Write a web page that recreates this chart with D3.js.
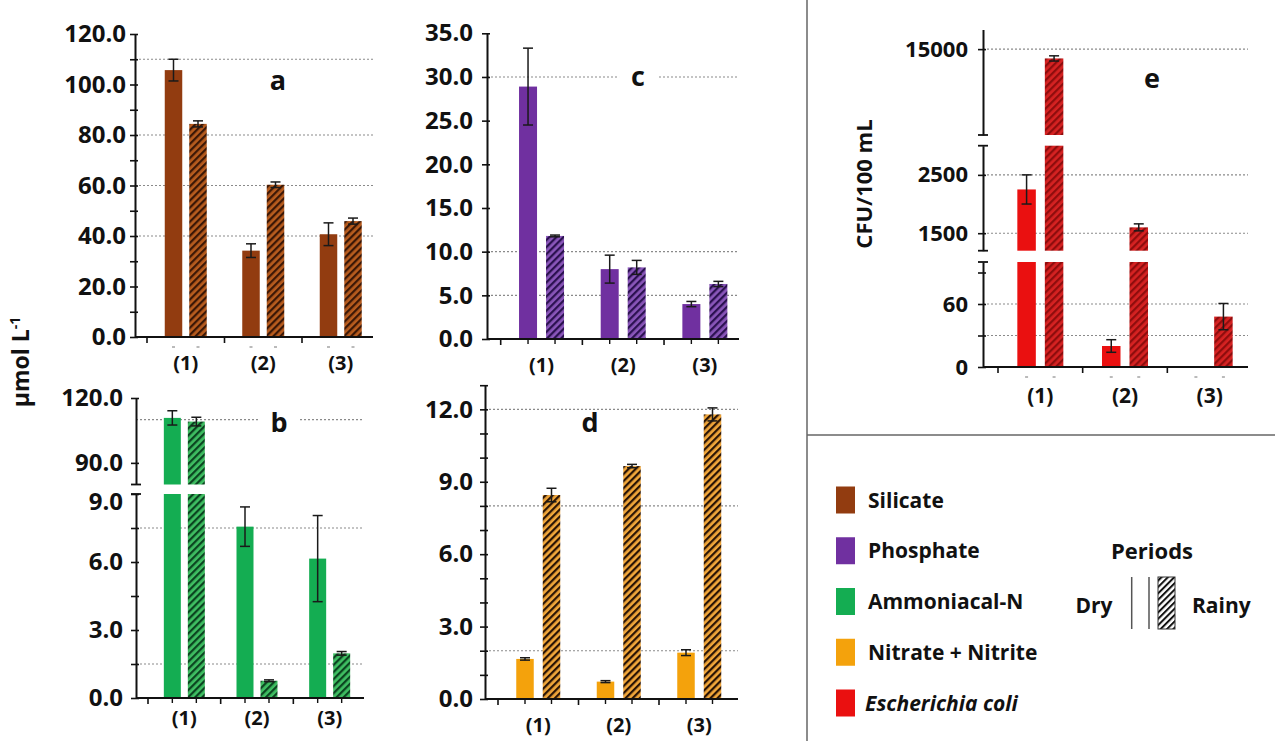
<!DOCTYPE html>
<html><head><meta charset="utf-8">
<script src="https://cdn.jsdelivr.net/npm/d3@7"></script>
<style>
body{margin:0;background:#fff}
svg{display:block}
text{font-family:"Open Sans","Liberation Sans",sans-serif;font-weight:700;fill:#111}
</style>
</head><body>
<svg id="chart" width="1275" height="741"></svg>
<script>
// ---------------- data ----------------
const sites = ["(1)", "(2)", "(3)"];
const periods = ["Dry", "Rainy"];

const silicateDry = [105.7, 34.2, 40.7];
const silicateDryErr = [4.3, 2.7, 4.5];
const silicateRainy = [84.4, 60.3, 45.9];
const silicateRainyErr = [1.2, 1.1, 1.2];

const ammoniaDry = [110.8, 7.56, 6.15];
const ammoniaDryErr = [3.3, 0.87, 1.9];
const ammoniaRainy = [109.1, 0.76, 1.97];
const ammoniaRainyErr = [2.0, 0.04, 0.08];

const phosphateDry = [28.9, 8.0, 4.0];
const phosphateDryErr = [4.4, 1.6, 0.3];
const phosphateRainy = [11.8, 8.2, 6.3];
const phosphateRainyErr = [0.1, 0.8, 0.3];

const nitrateDry = [1.66, 0.72, 1.92];
const nitrateDryErr = [0.05, 0.04, 0.12];
const nitrateRainy = [8.45, 9.65, 11.79];
const nitrateRainyErr = [0.28, 0.07, 0.27];

const ecoliDry = [2250, 20, 0];
const ecoliDryErr = [250, 6, 0];
const ecoliRainy = [14000, 1600, 48];
const ecoliRainyErr = [280, 60, 12.5];

const silicateTicks = d3.range(0, 121, 10), silicateLabels = [0, 20, 40, 60, 80, 100, 120];
const ammoniaUpperTicks = [90, 120], ammoniaLowerTicks = d3.range(0, 9.01, 1.5), ammoniaLowerLabels = [0, 3, 6, 9];
const phosphateTicks = d3.range(0, 36, 5);
const nitrateTicks = d3.range(0, 14, 1), nitrateLabels = [0, 3, 6, 9, 12];
const ecoliLowTicks = [0, 30, 60, 90], ecoliLowLabels = [0, 60];
const ecoliMidTicks = [1500, 2500], ecoliTopTicks = [15000];

const legendNames = ["Silicate", "Phosphate", "Ammoniacal-N", "Nitrate + Nitrite", "Escherichia coli"];
const legendColors = ["#923c10", "#7030a0", "#14ad52", "#f4a20c", "#ea1010"];

// ---------------- setup ----------------
const svg = d3.select("#chart");
const defs = svg.append("defs");
function hatch(id, light, dark, w) {
  const p = defs.append("pattern").attr("id", id).attr("patternUnits", "userSpaceOnUse")
    .attr("width", w).attr("height", w).attr("patternTransform", "rotate(45)");
  p.append("rect").attr("width", w).attr("height", w).attr("fill", light);
  p.append("rect").attr("width", w * 0.45).attr("height", w).attr("fill", dark);
}
hatch("hatch-a", "#b85c1e", "#3b1706", 5);
hatch("hatch-b", "#3fbf62", "#0b4420", 5);
hatch("hatch-c", "#8a56ba", "#2b1150", 5);
hatch("hatch-d", "#f2a73a", "#2a1405", 5);
hatch("hatch-e", "#d62222", "#8e0d0d", 5);
hatch("hatch-leg", "#ffffff", "#111111", 4.5);

const f1 = v => v.toFixed(1), f0 = v => String(v);

const panels = [
  { key: "a", letter: "a", letterPos: [278, 90], color: legendColors[0],
    dry: silicateDry, dryErr: silicateDryErr, rainy: silicateRainy, rainyErr: silicateRainyErr,
    axisX: 135, xEnd: 373, xRange: [147, 379.5], half: 21, barW: 17.5,
    labelSize: 24, pad: 4, fmt: f1, catY: 363, catSize: 20, marks: "dash",
    segments: [{ domain: [0, 120], range: [337, 34], ticks: silicateTicks, labels: silicateLabels, grid: [110, 80, 60, 40], caps: [] }] },
  { key: "b", letter: "b", letterPos: [279, 432], letterGap: true, color: legendColors[2],
    dry: ammoniaDry, dryErr: ammoniaDryErr, rainy: ammoniaRainy, rainyErr: ammoniaRainyErr,
    axisX: 136, xEnd: 364, xRange: [148, 366], half: 20.5, barW: 17,
    labelSize: 24, pad: 8, fmt: f1, catY: 718, catSize: 20, marks: "ticks",
    segments: [
      { domain: [0, 9], range: [698, 494], ticks: ammoniaLowerTicks, labels: ammoniaLowerLabels, grid: [7.5, 1.5], caps: [9], labelDy: { 9: 8 } },
      { domain: [80, 120], range: [484.5, 398], ticks: ammoniaUpperTicks, labels: ammoniaUpperTicks, grid: [110], caps: [80] }] },
  { key: "c", letter: "c", letterPos: [638, 86], letterGap: true, color: legendColors[1],
    dry: phosphateDry, dryErr: phosphateDryErr, rainy: phosphateRainy, rainyErr: phosphateRainyErr,
    axisX: 487, xEnd: 739, xRange: [500.7, 745.7], half: 22.5, barW: 18,
    labelSize: 24, pad: 9, fmt: f1, catY: 365, catSize: 20, marks: "ticks",
    segments: [{ domain: [0, 35], range: [339, 33.3], ticks: phosphateTicks, labels: phosphateTicks, grid: [30, 10, 5], caps: [] }] },
  { key: "d", letter: "d", letterPos: [590, 432], color: legendColors[3],
    dry: nitrateDry, dryErr: nitrateDryErr, rainy: nitrateRainy, rainyErr: nitrateRainyErr,
    axisX: 485, xEnd: 738, xRange: [498, 739.5], half: 22, barW: 17.5,
    labelSize: 24, pad: 7, fmt: f1, catY: 725, catSize: 20, marks: "ticks",
    segments: [{ domain: [0, 13], range: [699, 385.2], ticks: nitrateTicks, labels: nitrateLabels, grid: [12, 8, 2], caps: [] }] },
  { key: "e", letter: "e", letterPos: [1152, 88], color: legendColors[4],
    dry: ecoliDry, dryErr: ecoliDryErr, rainy: ecoliRainy, rainyErr: ecoliRainyErr,
    axisX: 983, xEnd: 1248, xRange: [998, 1252], half: 23, barW: 18.5,
    labelSize: 22, pad: 10, fmt: f0, catY: 395, catSize: 21, marks: "dash",
    segments: [
      { domain: [0, 100], range: [367, 262], ticks: ecoliLowTicks, labels: ecoliLowLabels, grid: [30, 60], caps: [100] },
      { domain: [1200, 3000], range: [250.7, 145.7], ticks: ecoliMidTicks, labels: ecoliMidTicks, grid: [1500, 2500], caps: [1200, 3000] },
      { domain: [5800, 17100], range: [135, 29.5], ticks: ecoliTopTicks, labels: ecoliTopTicks, grid: [15000], caps: [5800] }] }
];

function drawPanel(c) {
  const g = svg.append("g").attr("class", "panel-" + c.key);
  const x = d3.scaleBand().domain(sites).range(c.xRange);
  const step = x.bandwidth();
  const pin = (2 * c.half - 2 * c.barW) / (2 * c.half - c.barW);
  const sub = d3.scaleBand().domain(periods).range([step / 2 - c.half, step / 2 + c.half]).paddingInner(pin);
  const segs = c.segments.map(s => Object.assign({}, s, { y: d3.scaleLinear().domain(s.domain).range(s.range) }));
  const baseY = segs[0].y(segs[0].domain[0]);

  // gridlines
  const gridG = g.append("g");
  segs.forEach(s => {
    gridG.selectAll(null).data(s.grid).join("line")
      .attr("x1", c.axisX).attr("x2", c.xEnd)
      .attr("y1", v => s.y(v)).attr("y2", v => s.y(v))
      .attr("stroke", "#8a8a8a").attr("stroke-width", 1.1).attr("stroke-dasharray", "2,2");
  });

  // panel letter
  const lt = g.append("text").attr("x", c.letterPos[0]).attr("y", c.letterPos[1])
    .attr("text-anchor", "middle").attr("font-size", 27).text(c.letter);
  if (c.letterGap) {
    const bb = lt.node().getBBox();
    g.insert("rect", () => lt.node()).attr("x", bb.x - 12).attr("y", bb.y).attr("width", bb.width + 24)
      .attr("height", bb.height).attr("fill", "#fff");
  }

  const rows = sites.flatMap((s, i) => [
    { site: s, p: "Dry", v: c.dry[i], e: c.dryErr[i] },
    { site: s, p: "Rainy", v: c.rainy[i], e: c.rainyErr[i] }]).filter(d => d.v > 0);

  // bars, per axis segment
  segs.forEach(s => {
    g.append("g").selectAll("rect").data(rows.filter(d => d.v > s.domain[0])).join("rect")
      .attr("x", d => x(d.site) + sub(d.p))
      .attr("width", sub.bandwidth())
      .attr("y", d => s.y(Math.min(d.v, s.domain[1])))
      .attr("height", d => s.y(s.domain[0]) - s.y(Math.min(d.v, s.domain[1])))
      .attr("fill", d => d.p === "Dry" ? c.color : `url(#hatch-${c.key})`);
  });

  // error bars
  const segOf = v => segs.find(s => v >= s.domain[0] && v <= s.domain[1]);
  const eg = g.append("g").attr("stroke", "#1a1a1a").attr("stroke-width", 1.5);
  rows.forEach(d => {
    const s = segOf(d.v);
    const cx = x(d.site) + sub(d.p) + sub.bandwidth() / 2;
    const yt = s.y(d.v + d.e), yb = s.y(Math.max(d.v - d.e, s.domain[0]));
    eg.append("line").attr("x1", cx).attr("x2", cx).attr("y1", yt).attr("y2", yb);
    eg.append("line").attr("x1", cx - 5).attr("x2", cx + 5).attr("y1", yt).attr("y2", yt);
    eg.append("line").attr("x1", cx - 5).attr("x2", cx + 5).attr("y1", yb).attr("y2", yb);
  });

  // y axes
  segs.forEach(s => {
    const ax = d3.axisLeft(s.y).tickValues(s.ticks).tickSize(5).tickSizeOuter(0).tickPadding(c.pad)
      .tickFormat(v => s.labels.includes(v) ? c.fmt(v) : "");
    const ag = g.append("g").attr("transform", `translate(${c.axisX},0)`).call(ax);
    ag.attr("font-size", null).attr("font-family", null);
    ag.select(".domain").attr("stroke", "#111").attr("stroke-width", 2);
    ag.selectAll(".tick line").attr("x1", 3).attr("stroke", "#111").attr("stroke-width", 1.6);
    ag.selectAll(".tick text").attr("font-size", c.labelSize).attr("fill", "#111")
      .attr("transform", v => s.labelDy && s.labelDy[v] ? `translate(0,${s.labelDy[v]})` : null);
    s.caps.forEach(v => {
      ag.append("line").attr("x1", -5).attr("x2", 5).attr("y1", s.y(v)).attr("y2", s.y(v))
        .attr("stroke", "#111").attr("stroke-width", 1.8);
    });
  });

  // x axis
  g.append("line").attr("x1", c.axisX).attr("x2", c.xEnd).attr("y1", baseY).attr("y2", baseY)
    .attr("stroke", "#111").attr("stroke-width", 2);
  g.append("g").selectAll("line").data(sites).join("line")
    .attr("x1", d => x(d)).attr("x2", d => x(d)).attr("y1", baseY).attr("y2", baseY + 6)
    .attr("stroke", "#111").attr("stroke-width", 1.6);
  const centers = sites.flatMap(s => periods.map(p => x(s) + sub(p) + sub.bandwidth() / 2));
  if (c.marks === "ticks") {
    g.append("g").selectAll("line").data(centers).join("line")
      .attr("x1", d => d).attr("x2", d => d).attr("y1", baseY).attr("y2", baseY + 5)
      .attr("stroke", "#111").attr("stroke-width", 1.4);
  } else {
    g.append("g").selectAll("line").data(centers).join("line")
      .attr("x1", d => d - 1.5).attr("x2", d => d + 1.5).attr("y1", baseY + 10).attr("y2", baseY + 10)
      .attr("stroke", "#777").attr("stroke-width", 1);
  }
  const cat = g.append("g").attr("transform", `translate(0,${c.catY})`)
    .call(d3.axisBottom(x).tickSize(0).tickPadding(0));
  cat.attr("font-size", null).attr("font-family", null);
  cat.select(".domain").remove();
  cat.selectAll(".tick text").attr("font-size", c.catSize).attr("fill", "#111").attr("y", 0).attr("dy", "0.36em");
}

panels.forEach(drawPanel);

// y-axis titles
svg.append("text").attr("transform", "translate(29,362) rotate(-90)").attr("text-anchor", "middle")
  .attr("font-size", 23)
  .call(t => { t.append("tspan").text("µmol L"); t.append("tspan").attr("font-size", 14).attr("dy", -9).text("-1"); });
svg.append("text").attr("transform", "translate(872,184) rotate(-90)").attr("text-anchor", "middle")
  .attr("font-size", 22).text("CFU/100 mL");

// separators
svg.append("line").attr("x1", 807).attr("x2", 807).attr("y1", 0).attr("y2", 741).attr("stroke", "#666").attr("stroke-width", 1.5);
svg.append("line").attr("x1", 807).attr("x2", 1275).attr("y1", 435).attr("y2", 435).attr("stroke", "#666").attr("stroke-width", 1.5);

// legend
const legY = d3.scalePoint().domain(legendNames).range([500, 703]);
const leg = svg.append("g");
leg.selectAll("rect").data(legendNames).join("rect")
  .attr("x", 836).attr("y", d => legY(d) - 13.5).attr("width", 19).attr("height", 27)
  .attr("fill", (d, i) => legendColors[i]);
leg.selectAll("text").data(legendNames).join("text")
  .attr("x", (d, i) => i === 4 ? 865 : 868).attr("y", d => legY(d)).attr("dy", "0.36em")
  .attr("font-size", 21).attr("font-style", (d, i) => i === 4 ? "italic" : null).text(d => d);

svg.append("text").attr("x", 1152).attr("y", 551).attr("dy", "0.36em").attr("text-anchor", "middle").attr("font-size", 22).text("Periods");
svg.append("text").attr("x", 1094).attr("y", 605).attr("dy", "0.36em").attr("text-anchor", "middle").attr("font-size", 21).text(periods[0]);
svg.append("text").attr("x", 1192).attr("y", 605).attr("dy", "0.36em").attr("font-size", 21).text(periods[1]);
[1131.7, 1149].forEach(xv => svg.append("line").attr("x1", xv).attr("x2", xv).attr("y1", 577).attr("y2", 629).attr("stroke", "#555").attr("stroke-width", 1.5));
svg.append("rect").attr("x", 1158).attr("y", 577).attr("width", 17).attr("height", 52)
  .attr("fill", "url(#hatch-leg)").attr("stroke", "#333").attr("stroke-width", 1);
</script>
</body></html>
